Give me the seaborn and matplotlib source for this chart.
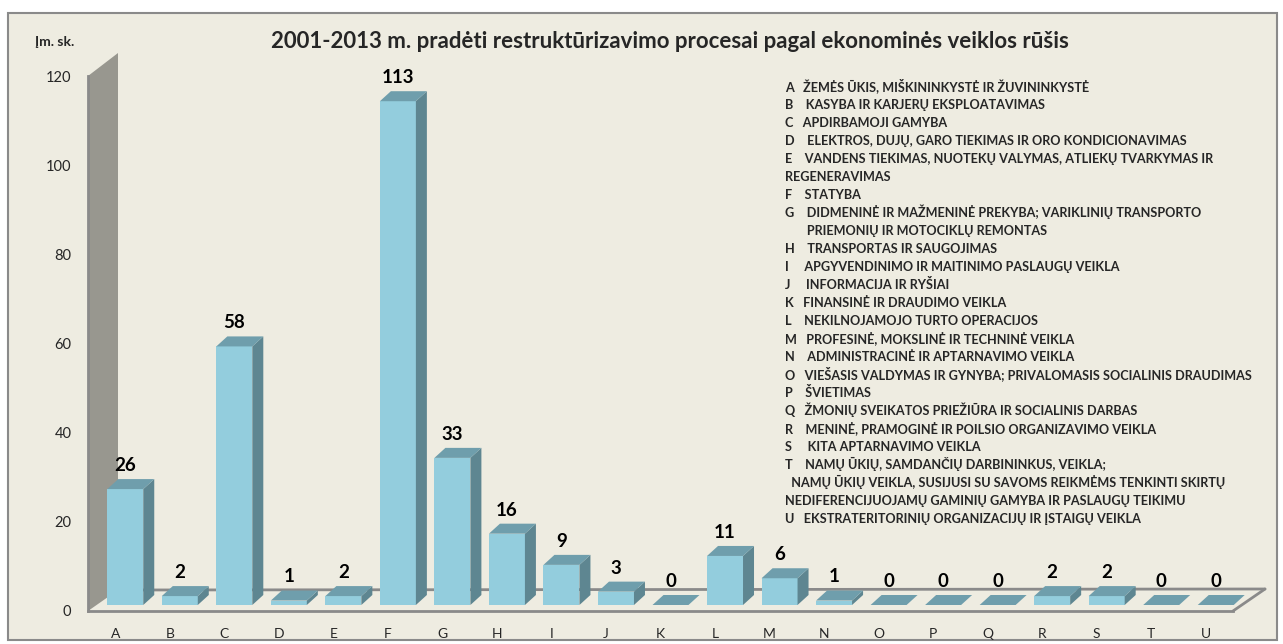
import matplotlib
matplotlib.use("Agg")
import matplotlib.pyplot as plt
from matplotlib.patches import Polygon, Rectangle
import pandas as pd
import seaborn as sns

# data
codes = list("ABCDEFGHIJKLMNOPQRSTU")
counts = [26, 2, 58, 1, 2, 113, 33, 16, 9, 3, 0, 11, 6, 1, 0, 0, 0, 2, 2, 0, 0]
y_ticks = [0, 20, 40, 60, 80, 100, 120]
title = "2001-2013 m. pradėti restruktūrizavimo procesai pagal ekonominės veiklos rūšis"
y_unit = "Įm. sk."
legend_lines = [
    "A   ŽEMĖS ŪKIS, MIŠKININKYSTĖ IR ŽUVININKYSTĖ",
    "B    KASYBA IR KARJERŲ EKSPLOATAVIMAS",
    "C   APDIRBAMOJI GAMYBA",
    "D    ELEKTROS, DUJŲ, GARO TIEKIMAS IR ORO KONDICIONAVIMAS",
    "E    VANDENS TIEKIMAS, NUOTEKŲ VALYMAS, ATLIEKŲ TVARKYMAS IR",
    "REGENERAVIMAS",
    "F    STATYBA",
    "G    DIDMENINĖ IR MAŽMENINĖ PREKYBA; VARIKLINIŲ TRANSPORTO",
    "       PRIEMONIŲ IR MOTOCIKLŲ REMONTAS",
    "H    TRANSPORTAS IR SAUGOJIMAS",
    "I     APGYVENDINIMO IR MAITINIMO PASLAUGŲ VEIKLA",
    "J     INFORMACIJA IR RYŠIAI",
    "K   FINANSINĖ IR DRAUDIMO VEIKLA",
    "L    NEKILNOJAMOJO TURTO OPERACIJOS",
    "M   PROFESINĖ, MOKSLINĖ IR TECHNINĖ VEIKLA",
    "N    ADMINISTRACINĖ IR APTARNAVIMO VEIKLA",
    "O   VIEŠASIS VALDYMAS IR GYNYBA; PRIVALOMASIS SOCIALINIS DRAUDIMAS",
    "P    ŠVIETIMAS",
    "Q   ŽMONIŲ SVEIKATOS PRIEŽIŪRA IR SOCIALINIS DARBAS",
    "R    MENINĖ, PRAMOGINĖ IR POILSIO ORGANIZAVIMO VEIKLA",
    "S     KITA APTARNAVIMO VEIKLA",
    "T    NAMŲ ŪKIŲ, SAMDANČIŲ DARBININKUS, VEIKLA;",
    "  NAMŲ ŪKIŲ VEIKLA, SUSIJUSI SU SAVOMS REIKMĖMS TENKINTI SKIRTŲ",
    "NEDIFERENCIJUOJAMŲ GAMINIŲ GAMYBA IR PASLAUGŲ TEIKIMU",
    "U   EKSTRATERITORINIŲ ORGANIZACIJŲ IR ĮSTAIGŲ VEIKLA",
]

# colours
BG = "#EEECE1"
FRONT = "#93CDDD"
SIDE = "#5E8691"
TOP = "#6F9EAC"
WALL = "#98978F"
GREY = "#8A8A8A"

sns.set_style("white")
plt.rcParams["font.family"] = ["Lato", "DejaVu Sans"]

W, H = 1283, 644
fig = plt.figure(figsize=(W / 100, H / 100), dpi=100)
fig.patch.set_facecolor("white")
fig.patches.append(Rectangle((8 / W, 4 / H), 1269 / W, 627 / H, transform=fig.transFigure,
                             facecolor=BG, edgecolor=GREY, lw=1.5, zorder=-1))

ax = fig.add_axes([88 / W, 33 / H, 1145 / W, 535 / H])
ax.set_facecolor("none")

df = pd.DataFrame({"code": codes, "count": counts})
sns.barplot(data=df, x="code", y="count", color=FRONT, saturation=1, width=0.66,
            ax=ax, zorder=3)
ax.set_xlim(-0.5, len(codes) - 0.5)
ax.set_ylim(0, 120)

# pixel -> data scale, for the fake 3d depth
p0 = ax.transData.transform((0, 0))
p1 = ax.transData.transform((1, 1))
sx, sy = p1[0] - p0[0], p1[1] - p0[1]

# back wall and floor
x_l, x_r = -0.5, len(codes) - 0.5
ax.add_patch(Polygon([(x_l, 0), (x_l, 120), (x_l + 30 / sx, 120 + 23 / sy), (x_l + 30 / sx, 21 / sy)],
                     closed=True, facecolor=WALL, edgecolor="none", zorder=1, clip_on=False))
ax.plot([x_l + 30 / sx, x_r + 32 / sx], [21 / sy, 22 / sy], color=GREY, lw=2, zorder=1, clip_on=False)
ax.plot([x_r, x_r + 32 / sx], [0, 22 / sy], color=GREY, lw=2, zorder=1, clip_on=False)

# shift bars back a little and give them sides and tops
sh_x, sh_y = 10 / sx, 6 / sy
dx, dy = 11 / sx, 10 / sy
for bar, v in zip(ax.patches[:len(codes)], counts):
    x0 = bar.get_x() + sh_x
    w = bar.get_width()
    h = bar.get_height()
    bar.set_x(x0)
    bar.set_y(sh_y)
    bar.set_edgecolor("none")
    bar.set_clip_on(False)
    y0 = sh_y
    ax.add_patch(Polygon([(x0 + w, y0), (x0 + w + dx, y0 + dy), (x0 + w + dx, y0 + h + dy), (x0 + w, y0 + h)],
                         closed=True, facecolor=SIDE, edgecolor="none", zorder=3, clip_on=False))
    ax.add_patch(Polygon([(x0, y0 + h), (x0 + w, y0 + h), (x0 + w + dx, y0 + h + dy), (x0 + dx, y0 + h + dy)],
                         closed=True, facecolor=TOP, edgecolor="none", zorder=3, clip_on=False))
    ax.annotate(str(v), (x0 + w / 2, y0 + h), xytext=(0, 17), textcoords="offset points",
                ha="center", va="center", fontsize=13.5, fontweight="bold", color="black")

# axes styling
ax.set_xlabel("")
ax.set_ylabel("")
ax.set_yticks(y_ticks)
ax.set_xticks(range(len(codes)))
ax.set_xticklabels(codes)
ax.set_xticks([i - 0.5 for i in range(len(codes) + 1)], minor=True)
ax.tick_params(axis="x", which="major", length=0, pad=12, labelsize=10, labelcolor="#262626")
ax.tick_params(axis="x", which="minor", length=4, width=1.2, color=GREY, direction="out")
ax.tick_params(axis="y", length=4, width=1.2, color=GREY, labelsize=10.5, labelcolor="#262626", pad=8)
for s in ["top", "right"]:
    ax.spines[s].set_visible(False)
for s in ["left", "bottom"]:
    ax.spines[s].set_color(GREY)
    ax.spines[s].set_linewidth(2)

# texts
fig.text(670 / W, 1 - 42 / H, title, ha="center", va="center", fontsize=16, fontweight="bold")
fig.text(55 / W, 1 - 42 / H, y_unit, ha="center", va="center", fontsize=10, fontweight="bold")
for i, line in enumerate(legend_lines):
    fig.text(785 / W, 1 - (91.5 + 17.96 * i) / H, line, ha="left", va="baseline",
             fontsize=9.1, fontweight="bold")

plt.savefig("out.png", dpi=100)
plt.close()
